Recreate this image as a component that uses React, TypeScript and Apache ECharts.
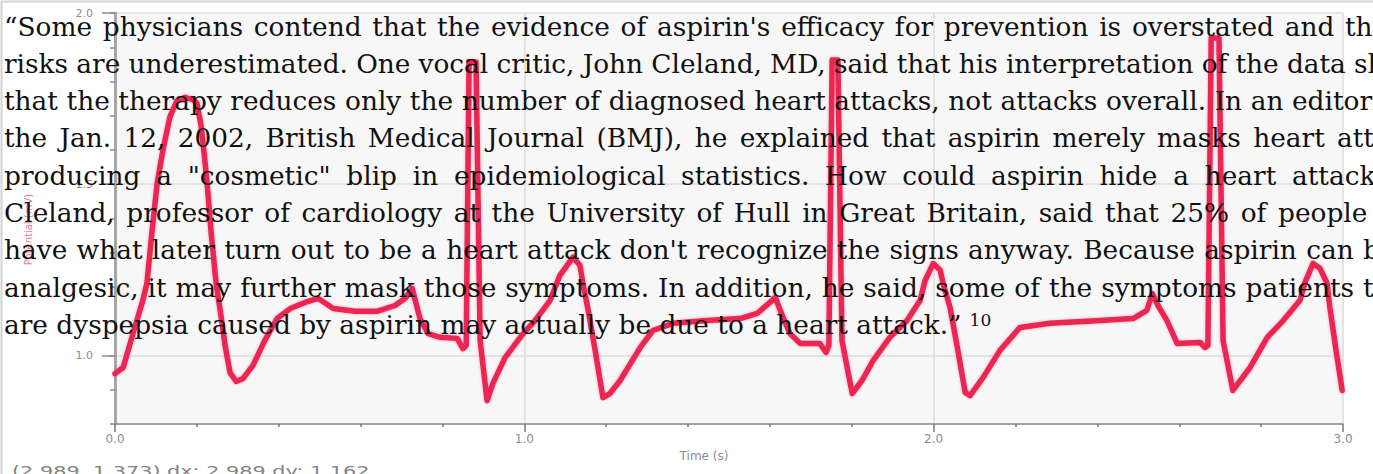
import React, { useEffect, useRef } from 'react';
import * as echarts from 'echarts';

// ECG trace: time (s) and potential
const timeS = [
  0.000, 0.020, 0.044, 0.068, 0.078, 0.090, 0.103, 0.117, 0.134, 0.151, 0.171, 0.191,
  0.200, 0.210, 0.217, 0.225, 0.235, 0.247, 0.257, 0.269, 0.281, 0.296, 0.313, 0.337,
  0.366, 0.396, 0.428, 0.464, 0.496, 0.533, 0.586, 0.640, 0.684, 0.709, 0.726, 0.745,
  0.765, 0.794, 0.836, 0.850, 0.858, 0.865, 0.882, 0.892, 0.909, 0.924, 0.953, 0.997,
  1.026, 1.063, 1.087, 1.119, 1.136, 1.143, 1.156, 1.173, 1.192, 1.209, 1.234, 1.283,
  1.314, 1.363, 1.446, 1.527, 1.569, 1.600, 1.613, 1.630, 1.649, 1.674, 1.722, 1.737,
  1.744, 1.752, 1.766, 1.776, 1.801, 1.825, 1.852, 1.893, 1.935, 1.967, 1.979, 1.999,
  2.016, 2.023, 2.040, 2.057, 2.077, 2.089, 2.121, 2.162, 2.211, 2.284, 2.407, 2.487,
  2.521, 2.534, 2.548, 2.570, 2.595, 2.651, 2.663, 2.670, 2.678, 2.697, 2.707, 2.731,
  2.773, 2.815, 2.854, 2.895, 2.907, 2.927, 2.944, 2.961, 2.968, 2.983, 2.998,
];
const potential = [
  0.947, 0.965, 1.064, 1.161, 1.211, 1.357, 1.503, 1.599, 1.696, 1.743, 1.754, 1.746,
  1.737, 1.673, 1.599, 1.503, 1.357, 1.211, 1.132, 1.029, 0.950, 0.924, 0.933, 0.971,
  1.044, 1.108, 1.137, 1.155, 1.167, 1.137, 1.129, 1.129, 1.146, 1.167, 1.196, 1.108,
  1.064, 1.053, 1.050, 1.020, 1.029, 1.857, 1.857, 1.044, 0.868, 0.921, 0.994, 1.064,
  1.102, 1.161, 1.234, 1.287, 1.263, 1.211, 1.132, 1.015, 0.877, 0.889, 0.927, 1.023,
  1.073, 1.094, 1.102, 1.108, 1.123, 1.155, 1.170, 1.117, 1.064, 1.035, 1.035, 1.009,
  1.029, 1.863, 1.863, 1.044, 0.889, 0.927, 0.985, 1.053, 1.102, 1.161, 1.219, 1.269,
  1.249, 1.211, 1.140, 1.029, 0.892, 0.883, 0.936, 1.015, 1.082, 1.094, 1.102, 1.108,
  1.132, 1.181, 1.146, 1.102, 1.035, 1.038, 1.023, 1.029, 1.927, 1.927, 1.044, 0.898,
  0.965, 1.053, 1.102, 1.161, 1.213, 1.269, 1.254, 1.211, 1.140, 1.015, 0.898,
];

const xAxisName = 'Time (s)';
const yAxisName = 'Potential (mV)';
const readout = '(2.989, 1.373) dx: 2.989 dy: 1.162';

// Overlaid paragraph, line by line (justified lines run past the right edge)
const paragraphLines = [
  '\u201CSome physicians contend that the evidence of aspirin\'s efficacy for prevention is overstated and the',
  'risks are underestimated. One vocal critic, John Cleland, MD, said that his interpretation of the data shows',
  'that the therapy reduces only the number of diagnosed heart attacks, not attacks overall. In an editorial',
  'the Jan. 12, 2002, British Medical Journal (BMJ), he explained that aspirin merely masks heart attacks,',
  'producing a "cosmetic" blip in epidemiological statistics. How could aspirin hide a heart attack?',
  'Cleland, professor of cardiology at the University of Hull in Great Britain, said that 25% of people',
  'have what later turn out to be a heart attack don\'t recognize the signs anyway. Because aspirin can be',
  'analgesic, it may further mask those symptoms. In addition, he said, some of the symptoms patients think',
  'are dyspepsia caused by aspirin may actually be due to a heart attack.\u201D',
];
const footnote = '10';
// x where the last word of each justified line starts (null = natural spacing)
const lastWordStart = [1345, 1354, 1292, 1337, 1292, 1278, 1363, 1363, null];

export default function App() {
  const ref = useRef<HTMLDivElement>(null);

  useEffect(() => {
    const el = ref.current!;
    const chart = echarts.init(el, null, { renderer: 'svg' });

    const canvas = document.createElement('canvas');
    const ctx = canvas.getContext('2d')!;
    const bodyFont = "26.4px 'DejaVu Serif'";
    ctx.font = bodyFont;
    const X0 = 4;
    const elements: any[] = [];

    let lastLineEnd = 0;
    paragraphLines.forEach((line, i) => {
      const words = line.split(' ');
      const widths = words.map((w) => ctx.measureText(w).width);
      let gap = ctx.measureText(' ').width;
      const target = lastWordStart[i];
      if (target != null && words.length > 1) {
        const sum = widths.slice(0, -1).reduce((a, b) => a + b, 0);
        gap = (target - X0 - sum) / (words.length - 1);
      }
      const y = 26 + 37.3 * i;
      let x = X0;
      words.forEach((w, j) => {
        elements.push({
          type: 'text',
          x,
          y,
          z: 100,
          silent: true,
          style: {
            text: w,
            font: bodyFont,
            fill: '#111',
            align: 'left',
            verticalAlign: 'middle',
            textAlign: 'left',
            textVerticalAlign: 'middle',
          },
        });
        x += widths[j] + gap;
      });
      lastLineEnd = x - gap;
    });

    elements.push({
      type: 'text',
      x: lastLineEnd + 8,
      y: 26 + 37.3 * 8 - 4,
      z: 100,
      silent: true,
      style: {
        text: footnote,
        font: "17px 'DejaVu Serif'",
        fill: '#111',
        align: 'left',
        verticalAlign: 'middle',
        textAlign: 'left',
        textVerticalAlign: 'middle',
      },
    });

    const roFont = "14px 'DejaVu Sans'";
    ctx.font = roFont;
    const roW = ctx.measureText(readout).width;
    elements.push({
      type: 'text',
      x: 12,
      y: 471,
      scaleX: 358 / roW,
      z: 100,
      silent: true,
      style: {
        text: readout,
        font: roFont,
        fill: '#858585',
        align: 'left',
        verticalAlign: 'middle',
        textAlign: 'left',
        textVerticalAlign: 'middle',
      },
    });

    elements.push({
      type: 'rect',
      z: 1,
      silent: true,
      shape: { x: 1.5, y: 1.5, width: 1390, height: 490 },
      style: { fill: 'none', stroke: '#d2d2d2', lineWidth: 2 },
    });

    const axisLabelStyle = {
      color: '#8c8c8c',
      fontFamily: 'DejaVu Sans',
      fontSize: 12,
    };

    chart.setOption({
      animation: false,
      backgroundColor: '#ffffff',
      grid: {
        left: 115,
        right: 30,
        top: 13,
        bottom: 50,
        show: true,
        backgroundColor: '#f7f7f7',
        borderWidth: 0,
      },
      xAxis: {
        type: 'value',
        min: 0,
        max: 3,
        interval: 1,
        name: xAxisName,
        nameLocation: 'middle',
        nameGap: 24,
        nameTextStyle: { ...axisLabelStyle, fontSize: 12, padding: [0, 50, 0, 0] },
        axisLine: { show: true, lineStyle: { color: '#8a8a8a', width: 1.5 } },
        axisTick: { show: true, length: 8, lineStyle: { color: '#777', width: 1.5 } },
        minorTick: { show: true, splitNumber: 5, length: 3, lineStyle: { color: '#777', width: 1.5 } },
        axisLabel: {
          ...axisLabelStyle,
          margin: 9,
          formatter: (v: number) => v.toFixed(1),
        },
        splitLine: { show: true, lineStyle: { color: '#dcdcdc', width: 1.5 } },
      },
      yAxis: [
        {
          type: 'value',
          min: 0.8,
          max: 2.0,
          splitNumber: 2,
          minInterval: 0.5,
          maxInterval: 0.5,
          name: yAxisName,
          nameLocation: 'middle',
          nameGap: 82,
          nameTextStyle: {
            color: '#e77d9b',
            fontFamily: 'DejaVu Sans',
            fontSize: 10,
            padding: [0, 22, 0, 0],
          },
          axisLine: { show: true, lineStyle: { color: '#a6a6a6', width: 3 } },
          axisTick: { show: true, length: 13, lineStyle: { color: '#8a8a8a', width: 1.5 } },
          axisLabel: {
            ...axisLabelStyle,
            fontSize: 11,
            margin: 22,
            showMinLabel: false,
            formatter: (v: number) => (Math.abs(v - 0.8) < 1e-6 ? '' : v.toFixed(1)),
          },
          splitLine: { show: true, lineStyle: { color: '#dcdcdc', width: 1.5 } },
        },
        {
          type: 'value',
          min: 0.8,
          max: 2.0,
          interval: 0.1,
          position: 'left',
          axisLine: { show: false },
          axisTick: { show: true, length: 5, lineStyle: { color: '#8a8a8a', width: 1.5 } },
          axisLabel: { show: false },
          splitLine: { show: false },
        },
      ],
      series: [
        {
          type: 'line',
          yAxisIndex: 0,
          data: timeS.map((t, i) => [t, potential[i]]),
          showSymbol: false,
          smooth: false,
          z: 5,
          lineStyle: {
            color: '#ec2552',
            width: 5.5,
            join: 'round',
            cap: 'round',
            shadowColor: 'rgba(236,37,82,0.35)',
            shadowBlur: 3,
          },
        },
      ],
      graphic: { elements },
    });

    return () => {
      chart.dispose();
    };
  }, []);

  return (
    <div
      ref={ref}
      style={{ position: 'fixed', left: 0, top: 0, width: 1373, height: 474, background: '#fff' }}
    />
  );
}
